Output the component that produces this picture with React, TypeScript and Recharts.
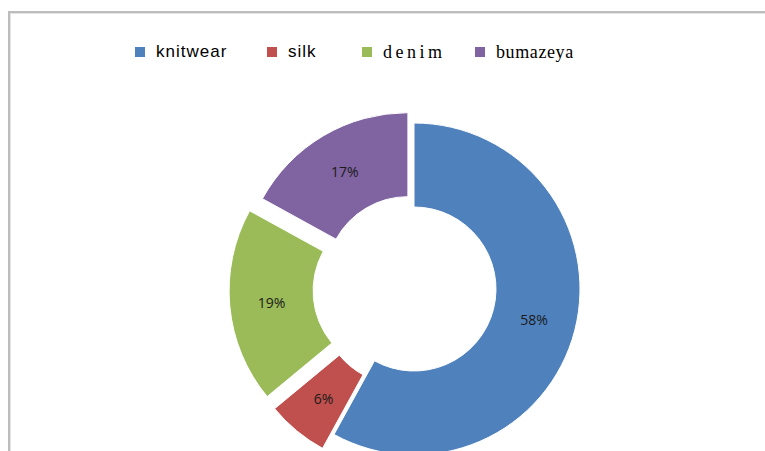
import React from "react";
import { PieChart, Pie, Cell } from "recharts";

const categories = ["knitwear", "silk", "denim", "bumazeya"];
const shares = [58, 6, 19, 17];
const colors = ["#4F81BD", "#C0504D", "#9BBB59", "#8064A2"];
// how far each slice is pulled out of the ring (px)
const explode = [0, 18, 19, 12];

const W = 765;
const H = 451;
const center = { x: 414, y: 289 };
const innerR = 82;
const outerR = 166;

const legendStyles: React.CSSProperties[] = [
  { left: 135, fontFamily: "'Liberation Sans', Arial, sans-serif", fontSize: 17, letterSpacing: 1 },
  { left: 267, fontFamily: "'Liberation Sans', Arial, sans-serif", fontSize: 17, letterSpacing: 1 },
  { left: 362, fontFamily: "'Liberation Serif', serif", fontSize: 18, letterSpacing: 3.5 },
  { left: 475, fontFamily: "'Liberation Serif', serif", fontSize: 18, letterSpacing: 0.6 },
];

const data = categories.map((name, i) => ({ name, value: shares[i] }));
const total = shares.reduce((a, b) => a + b, 0);

// offset of each exploded slice along its middle angle
const offsets = shares.map((v, i) => {
  const before = shares.slice(0, i).reduce((a, b) => a + b, 0);
  const mid = ((before + v / 2) / total) * 2 * Math.PI;
  return { dx: explode[i] * Math.sin(mid), dy: -explode[i] * Math.cos(mid) };
});

const RAD = Math.PI / 180;

const makeLabel = (slice: number) => (props: any) => {
  const { cx, cy, midAngle, innerRadius, outerRadius, percent, index } = props;
  if (index !== slice) return null;
  const r = (innerRadius + outerRadius) / 2;
  const x = cx + r * Math.cos(-midAngle * RAD);
  const y = cy + r * Math.sin(-midAngle * RAD);
  return (
    <text
      x={x}
      y={y}
      textAnchor="middle"
      dominantBaseline="central"
      fill="#1a1a1a"
      fontSize={14}
      fontFamily="'Open Sans', 'Liberation Sans', sans-serif"
    >
      {`${Math.round(percent * 100)}%`}
    </text>
  );
};

export default function App() {
  return (
    <div style={{ position: "fixed", left: 0, top: 0, width: W, height: H, overflow: "hidden", background: "#fff" }}>
      <div
        style={{
          position: "absolute",
          left: 8,
          top: 11,
          width: 820,
          height: 520,
          border: "2px solid #bdbdbd",
          boxShadow: "inset 1px 1px 0 #e4e4e4",
        }}
      />
      <div style={{ position: "absolute", left: 0, top: 0 }}>
        <PieChart width={W} height={H} margin={{ top: 0, right: 0, bottom: 0, left: 0 }}>
          {data.map((_, i) => (
            <Pie
              key={categories[i]}
              data={data}
              dataKey="value"
              nameKey="name"
              cx={center.x + offsets[i].dx}
              cy={center.y + offsets[i].dy}
              innerRadius={innerR}
              outerRadius={outerR}
              startAngle={90}
              endAngle={-270}
              labelLine={false}
              label={makeLabel(i)}
              isAnimationActive={false}
            >
              {data.map((d, j) => (
                <Cell
                  key={d.name}
                  fill={j === i ? colors[j] : "transparent"}
                  stroke={j === i ? "#fff" : "none"}
                  strokeWidth={1}
                />
              ))}
            </Pie>
          ))}
        </PieChart>
      </div>
      {categories.map((name, i) => (
        <div
          key={name}
          style={{
            position: "absolute",
            top: 42,
            display: "flex",
            alignItems: "center",
            color: "#000",
            lineHeight: "20px",
            ...legendStyles[i],
          }}
        >
          <span style={{ width: 10, height: 10, background: colors[i], marginRight: 11, display: "inline-block" }} />
          <span>{name}</span>
        </div>
      ))}
    </div>
  );
}
